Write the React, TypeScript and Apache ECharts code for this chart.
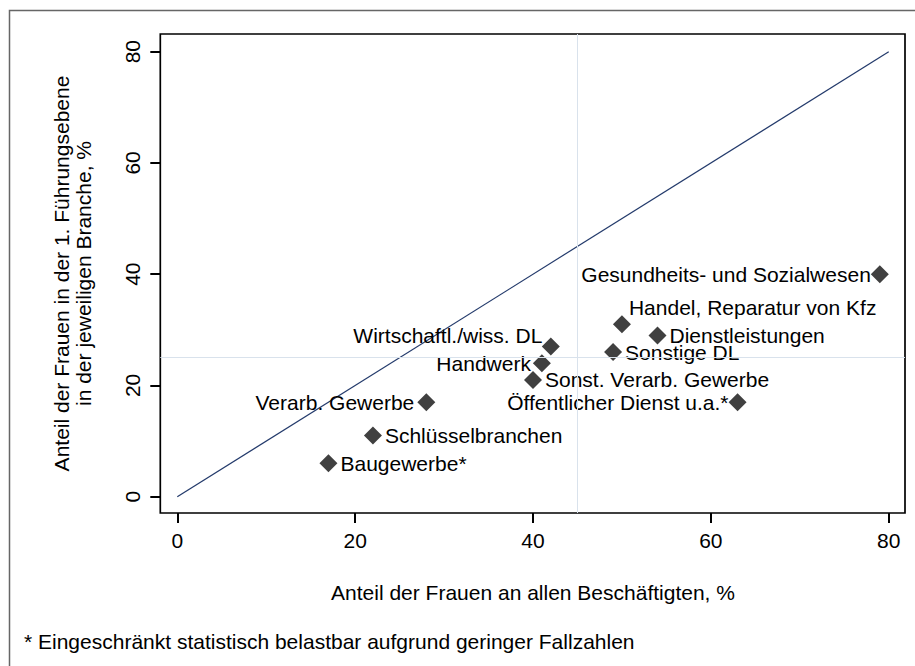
import React, { useEffect, useRef } from "react";
import * as echarts from "echarts";

const categories = [
  "Baugewerbe*",
  "Schlüsselbranchen",
  "Verarb. Gewerbe",
  "Sonst. Verarb. Gewerbe",
  "Handwerk",
  "Wirtschaftl./wiss. DL",
  "Sonstige DL",
  "Handel, Reparatur von Kfz",
  "Dienstleistungen",
  "Öffentlicher Dienst u.a.*",
  "Gesundheits- und Sozialwesen",
];
const shareAllEmployees = [17, 22, 28, 40, 41, 42, 49, 50, 54, 63, 79];
const shareFirstLevel = [6, 11, 17, 21, 24, 27, 26, 31, 29, 17, 40];
const axisTicks = [0, 20, 40, 60, 80];
const diagonal = [
  [0, 0],
  [80, 80],
];
const refX = 45;
const refY = 25;

const xTitle = "Anteil der Frauen an allen Beschäftigten, %";
const yTitle = "Anteil der Frauen in der 1. Führungsebene\nin der jeweiligen Branche, %";
const footnote = "* Eingeschränkt statistisch belastbar aufgrund geringer Fallzahlen";

const FONT = "'Liberation Sans', Arial, Helvetica, sans-serif";
const FS = 21;

const labelPlacement: Record<string, any> = {
  "Baugewerbe*": { position: "right", distance: 3 },
  "Schlüsselbranchen": { position: "right", distance: 3 },
  "Verarb. Gewerbe": { position: "left", distance: 3 },
  "Sonst. Verarb. Gewerbe": { position: "right", distance: 3 },
  "Handwerk": { position: "left", distance: 2 },
  "Wirtschaftl./wiss. DL": { position: "left", distance: 3, offset: [3.6, -10.7] },
  "Sonstige DL": { position: "right", distance: 3 },
  "Handel, Reparatur von Kfz": { position: "right", distance: 3, offset: [-5, -17] },
  "Dienstleistungen": { position: "right", distance: 3 },
  "Öffentlicher Dienst u.a.*": { position: "left", distance: 0 },
  "Gesundheits- und Sozialwesen": { position: "left", distance: 0 },
};

export default function App() {
  const ref = useRef<HTMLDivElement>(null);

  useEffect(() => {
    if (!ref.current) return;
    const chart = echarts.init(ref.current, undefined, { renderer: "svg" });

    const points = categories.map((name, i) => ({
      name,
      value: [shareAllEmployees[i], shareFirstLevel[i]],
      label: {
        show: true,
        formatter: name,
        color: "#000",
        opacity: 1,
        fontSize: FS,
        lineHeight: 14,
        fontFamily: FONT,
        ...labelPlacement[name],
      },
    }));

    const axisCommon = {
      type: "value",
      axisLine: { show: false, onZero: false },
      splitLine: { show: false },
      axisTick: {
        show: true,
        customValues: axisTicks,
        length: 10,
        inside: false,
        lineStyle: { color: "#000", width: 2 },
      },
    };

    chart.setOption({
      animation: false,
      backgroundColor: "#fff",
      grid: {
        left: 160.3,
        right: 10,
        top: 34,
        bottom: 153,
        show: true,
        borderColor: "#000",
        borderWidth: 1.7,
        backgroundColor: "transparent",
      },
      xAxis: {
        ...axisCommon,
        min: -1.91,
        max: 81.83,
        axisLabel: {
          customValues: axisTicks,
          margin: 17,
          fontSize: FS,
          fontFamily: FONT,
          color: "#000",
        },
      },
      yAxis: {
        ...axisCommon,
        min: -2.93,
        max: 83.18,
        axisLabel: {
          customValues: axisTicks,
          margin: 17,
          rotate: 90,
          fontSize: FS,
          fontFamily: FONT,
          color: "#000",
        },
      },
      series: [
        {
          type: "line",
          data: diagonal,
          symbol: "none",
          silent: true,
          lineStyle: { color: "#233a6b", width: 1.2 },
          z: 2,
          markLine: {
            silent: true,
            symbol: "none",
            label: { show: false },
            lineStyle: { color: "#d9e2ec", width: 1, type: "solid" },
            data: [{ xAxis: refX }, { yAxis: refY }],
          },
        },
        {
          type: "scatter",
          data: points,
          symbol: "diamond",
          symbolSize: 18,
          itemStyle: { color: "#404040", opacity: 1 },
          z: 3,
        },
      ],
      graphic: [
        {
          type: "polyline",
          shape: {
            points: [
              [9.5, 666],
              [9.5, 10.5],
              [915, 10.5],
            ],
          },
          style: { stroke: "#666", lineWidth: 1.5, fill: null },
          silent: true,
        },
        {
          type: "text",
          x: 533,
          y: 592,
          style: {
            text: xTitle,
            fill: "#000",
            font: `${FS}px ${FONT}`,
            align: "center",
            verticalAlign: "middle",
          },
        },
        {
          type: "text",
          x: 72,
          y: 273.5,
          rotation: Math.PI / 2,
          style: {
            text: yTitle,
            fill: "#000",
            font: `${FS}px ${FONT}`,
            align: "center",
            verticalAlign: "middle",
            lineHeight: 22,
          },
        },
        {
          type: "text",
          x: 24,
          y: 641,
          style: {
            text: footnote,
            fill: "#000",
            font: `${FS}px ${FONT}`,
            align: "left",
            verticalAlign: "middle",
          },
        },
      ],
    });

    return () => chart.dispose();
  }, []);

  return (
    <div
      ref={ref}
      style={{ position: "absolute", left: 0, top: 0, width: 915, height: 666, background: "#fff" }}
    />
  );
}
